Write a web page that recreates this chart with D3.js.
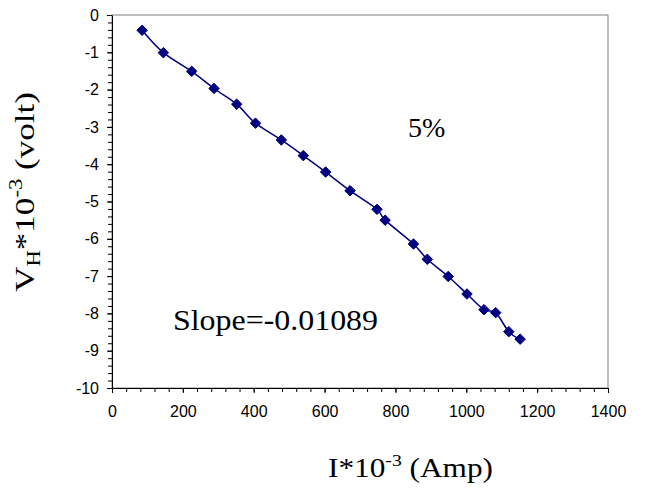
<!DOCTYPE html>
<html>
<head>
    <meta charset="utf-8" />
    <script src="https://d3js.org/d3.v7.min.js"></script>
    <style>
        body { margin: 0; background: #fff; }
        .tick text { font-family: "Liberation Sans", Arial, sans-serif; font-size: 16px; fill: #000; }
        text.title, text.title tspan { font-family: "Liberation Serif", "Times New Roman", serif; fill: #000; }
    </style>
</head>
<body>
    <svg id="chart" width="645" height="495"></svg>

    <script>
        // data
        var currentI = [85, 145, 225, 288, 352, 405, 478, 540, 603, 672, 748, 771, 851, 890, 949, 1002, 1050, 1083, 1120, 1152];
        var voltageVH = [-0.41, -1.01, -1.51, -1.97, -2.39, -2.90, -3.35, -3.77, -4.21, -4.71, -5.21, -5.50, -6.14, -6.55, -7.01, -7.48, -7.90, -7.98, -8.49, -8.69];
        var xTicks = [0, 200, 400, 600, 800, 1000, 1200, 1400];
        var yTicks = [0, -1, -2, -3, -4, -5, -6, -7, -8, -9, -10];

        var points = currentI.map(function (d, i) { return { x: d, y: voltageVH[i] }; });

        var serif = "Liberation Serif";

        // set dimensions and margins
        var margin = { top: 15, right: 37, bottom: 107, left: 112 };
        var width = 645 - margin.left - margin.right;
        var height = 495 - margin.top - margin.bottom;

        var root = d3.select("#chart");
        var svg = root.append("g")
            .attr("transform", "translate(" + margin.left + "," + margin.top + ")");

        // x y scales
        var x = d3.scaleLinear().domain([0, 1400]).range([0, width]);
        var y = d3.scaleLinear().domain([-10, 0]).range([height, 0]);

        // plot area border (grey)
        svg.append("rect")
            .attr("x", 0).attr("y", 0)
            .attr("width", width).attr("height", height)
            .attr("fill", "none")
            .attr("stroke", "#808080")
            .attr("stroke-width", 1);

        // minor ticks
        svg.append("g")
            .attr("transform", "translate(0," + height + ")")
            .call(d3.axisBottom(x).tickValues(d3.range(0, 1401, 40)).tickFormat("").tickSizeInner(4).tickSizeOuter(0))
            .call(g => g.select(".domain").remove());
        svg.append("g")
            .call(d3.axisLeft(y).tickValues(d3.range(-50, 1).map(d => d / 5)).tickFormat("").tickSizeInner(4).tickSizeOuter(0))
            .call(g => g.select(".domain").remove());

        // major axes
        svg.append("g")
            .attr("transform", "translate(0," + height + ")")
            .call(d3.axisBottom(x).tickValues(xTicks).tickFormat(d3.format("d")).tickSizeInner(5).tickSizeOuter(0).tickPadding(13))
            .call(g => g.select(".domain").attr("stroke", "#000"));
        svg.append("g")
            .call(d3.axisLeft(y).tickValues(yTicks).tickFormat(d => d === 0 ? "0" : "-" + Math.abs(d)).tickSizeInner(5).tickSizeOuter(0).tickPadding(8))
            .call(g => g.select(".domain").attr("stroke", "#000"));

        // smoothed line
        var line = d3.line()
            .x(d => x(d.x))
            .y(d => y(d.y))
            .curve(d3.curveCardinal.tension(0));

        svg.append("path")
            .datum(points)
            .attr("d", line)
            .attr("fill", "none")
            .attr("stroke", "#000080")
            .attr("stroke-width", 1.5);

        // diamond markers
        var diamond = d3.symbol().type(d3.symbolDiamond2).size(70);
        svg.selectAll(".marker")
            .data(points)
            .enter().append("path")
            .attr("class", "marker")
            .attr("transform", d => "translate(" + x(d.x) + "," + y(d.y) + ")")
            .attr("d", diamond)
            .attr("fill", "#000080")
            .attr("stroke", "#000080")
            .attr("stroke-width", 1);

        // annotations
        root.append("text")
            .attr("class", "title")
            .attr("font-family", serif)
            .attr("font-size", 28)
            .attr("x", 408)
            .attr("y", 137)
            .text("5%");

        root.append("text")
            .attr("class", "title")
            .attr("font-family", serif)
            .attr("font-size", 29)
            .attr("x", 173)
            .attr("y", 330)
            .attr("textLength", 205)
            .attr("lengthAdjust", "spacingAndGlyphs")
            .text("Slope=-0.01089");

        // x axis title
        var xt = root.append("text")
            .attr("class", "title")
            .attr("font-family", serif)
            .attr("font-size", 27)
            .attr("x", 328)
            .attr("y", 477)
            .attr("textLength", 165)
            .attr("lengthAdjust", "spacingAndGlyphs");
        xt.append("tspan").text("I*10");
        xt.append("tspan").attr("dy", -11).attr("font-size", 17).text("-3");
        xt.append("tspan").attr("dy", 11).text(" (Amp)");

        // y axis title
        var yt = root.append("text")
            .attr("class", "title")
            .attr("font-family", serif)
            .attr("font-size", 28)
            .attr("transform", "rotate(-90)")
            .attr("x", -292)
            .attr("y", 34)
            .attr("textLength", 200)
            .attr("lengthAdjust", "spacingAndGlyphs");
        yt.append("tspan").text("V");
        yt.append("tspan").attr("dy", 6).attr("font-size", 18).text("H");
        yt.append("tspan").attr("dy", -6).text("*10");
        yt.append("tspan").attr("dy", -12).attr("font-size", 18).text("-3");
        yt.append("tspan").attr("dy", 12).text(" (volt)");
    </script>
</body>
</html>
